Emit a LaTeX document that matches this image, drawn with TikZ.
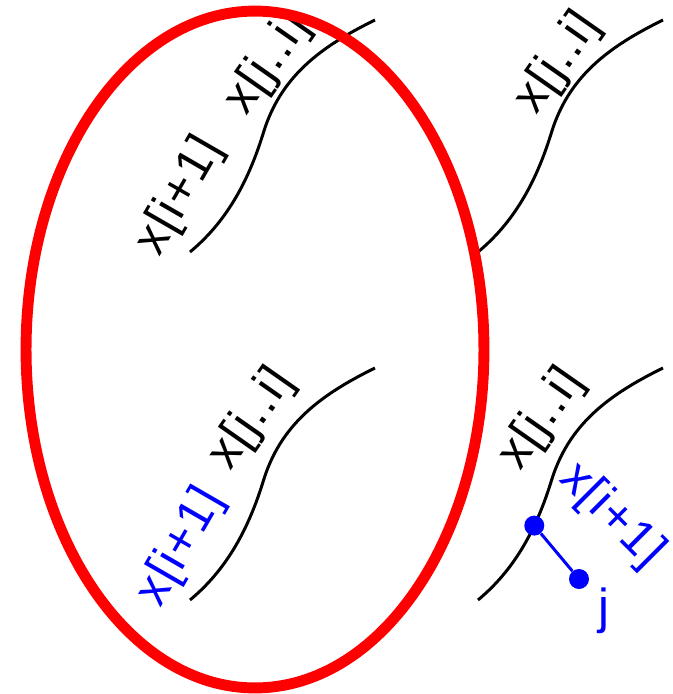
\documentclass[tikz,border=0pt]{standalone}
\usepackage{fontspec}
\setmainfont{Liberation Sans}[LetterSpace=3]
\usepackage{xcolor}
\usetikzlibrary{positioning}

% one S-shaped strand, drawn from its lower end
\newcommand{\strand}[3]{%
  \draw[strand, shift={(#1,#2)}] (0,0) .. controls (30,-25) and (55,-60) .. (73,-118)
    coordinate[pos=0.72] (#3)
    .. controls (90,-175) and (130,-205) .. (185,-232);}

\begin{document}
\begin{tikzpicture}[x=0.02cm, y=-0.02cm,
    strand/.style={line width=1.7pt, black},
    lbl/.style={font=\fontsize{28}{33}\selectfont, inner sep=0pt},
    bluelbl/.style={lbl, text=blue},
    bead/.style={circle, fill=blue, inner sep=0pt, minimum size=0.4cm},
    link/.style={line width=1.7pt, blue},
    ring/.style={line width=6.2pt, red}]

    \useasboundingbox (0,0) rectangle (673,694);

    % Strands
    \strand{190}{252}{tl_mid}
    \strand{478}{252}{tr_mid}
    \strand{190}{600}{bl_mid}
    \strand{478}{600}{br_mid}

    % Top labels
    \node[lbl, rotate=60] (tl_next) at (180,196) {x[i+1]};
    \node[lbl, rotate=55] (tl_range) at (268,64) {x[j..i]};
    \node[lbl, rotate=55] (tr_range) at (558,63) {x[j..i]};

    % Bottom labels
    \node[lbl, rotate=55] (bl_range) at (252,419) {x[j..i]};
    \node[bluelbl, rotate=60] (bl_next) at (181,547) {x[i+1]};
    \node[lbl, rotate=55] (br_range) at (542,419) {x[j..i]};
    \node[bluelbl, rotate=-45] (br_next) at (612,516) {x[i+1]};

    % Beads
    \node[bead] (b_top) at (br_mid) {};
    \node[bead] (b_low) at (579,579) {};
    \node[bluelbl] (b_name) at (604,611) {j};
    \draw[link] (b_top) -- (b_low);

    % Selection
    \draw[ring] (255,349.5) ellipse [x radius=4.58cm, y radius=6.77cm];
\end{tikzpicture}
\end{document}
